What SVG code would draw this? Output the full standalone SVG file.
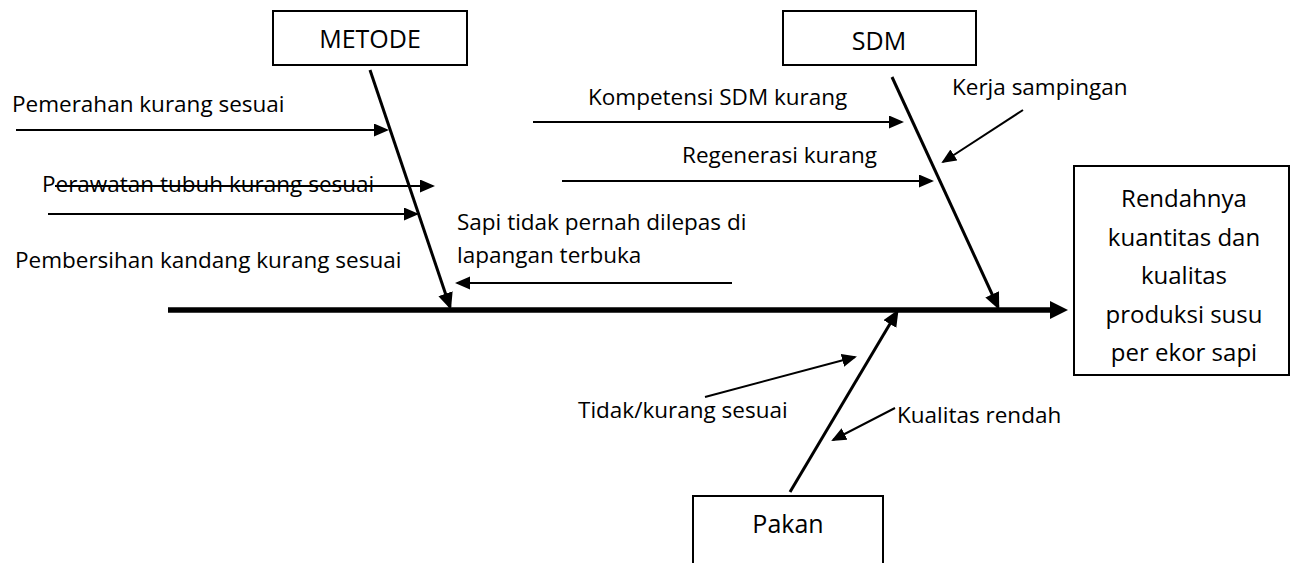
<svg xmlns="http://www.w3.org/2000/svg" width="1290" height="563" viewBox="0 0 1290 563">
<defs>
<style>
text{font-family:"Open Sans","Liberation Sans",sans-serif;font-size:22.5px;fill:#000}
.c{text-anchor:middle}
.t{font-size:25px}
.r{font-size:24px}
.box{fill:#fff;stroke:#000;stroke-width:2}
.thin{stroke:#000;stroke-width:2;fill:none}
.bone{stroke:#000;stroke-width:3;fill:none}
.spine{stroke:#000;stroke-width:5.5;fill:none}
</style>
<marker id="ah" markerUnits="userSpaceOnUse" markerWidth="16" markerHeight="14" refX="13" refY="6.5" orient="auto">
<path d="M0,0 L15,6.5 L0,13 z" fill="#000"/>
</marker>
<marker id="ahb" markerUnits="userSpaceOnUse" markerWidth="18" markerHeight="16" refX="14" refY="7.5" orient="auto">
<path d="M0,0 L17,7.5 L0,15 z" fill="#000"/>
</marker>
</defs>
<rect width="1290" height="563" fill="#fff"/>

<g id="connectors">
<line class="spine" x1="168" y1="310" x2="1052" y2="310"/>
<path d="M1050,301 L1068,310 L1050,319 z" fill="#000"/>
<line class="bone" x1="370" y1="70" x2="450" y2="307" marker-end="url(#ahb)"/>
<line class="bone" x1="892" y1="77" x2="998" y2="307" marker-end="url(#ahb)"/>
<line class="bone" x1="790" y1="492" x2="897" y2="312" marker-end="url(#ahb)"/>
<line class="thin" x1="16" y1="130" x2="387" y2="130" marker-end="url(#ah)"/>
<line class="thin" x1="55" y1="186" x2="433" y2="186" marker-end="url(#ah)"/>
<line class="thin" x1="48" y1="214" x2="417" y2="214" marker-end="url(#ah)"/>
<line class="thin" x1="732" y1="283" x2="457" y2="283" marker-end="url(#ah)"/>
<line class="thin" x1="533" y1="122" x2="902" y2="122" marker-end="url(#ah)"/>
<line class="thin" x1="562" y1="181" x2="932" y2="181" marker-end="url(#ah)"/>
<line class="thin" x1="1023" y1="110" x2="943" y2="162" marker-end="url(#ah)"/>
<line class="thin" x1="705" y1="397" x2="855" y2="357" marker-end="url(#ah)"/>
<line class="thin" x1="895" y1="408" x2="833" y2="440" marker-end="url(#ah)"/>
</g>

<g id="node-metode">
<rect class="box" x="273" y="11" width="194" height="54"/>
<text class="c t" x="370" y="48">METODE</text>
</g>
<g id="node-sdm">
<rect class="box" x="783" y="11" width="193" height="54"/>
<text class="c t" x="879" y="50">SDM</text>
</g>
<g id="node-pakan">
<rect class="box" x="693" y="496" width="190" height="80"/>
<text class="c t" x="788" y="533">Pakan</text>
</g>
<g id="node-result">
<rect class="box" x="1074" y="166" width="215" height="209"/>
<text class="c r" x="1184" y="207">Rendahnya</text>
<text class="c r" x="1184" y="246">kuantitas dan</text>
<text class="c r" x="1184" y="284">kualitas</text>
<text class="c r" x="1184" y="323">produksi susu</text>
<text class="c r" x="1184" y="361">per ekor sapi</text>
</g>

<g id="labels">
<text x="12" y="112">Pemerahan kurang sesuai</text>
<text x="42" y="192">Perawatan tubuh kurang sesuai</text>
<text x="15" y="268">Pembersihan kandang kurang sesuai</text>
<text x="457" y="230">Sapi tidak pernah dilepas di</text>
<text x="457" y="263">lapangan terbuka</text>
<text x="588" y="105">Kompetensi SDM kurang</text>
<text x="682" y="163">Regenerasi kurang</text>
<text x="952" y="95">Kerja sampingan</text>
<text x="578" y="418">Tidak/kurang sesuai</text>
<text x="897" y="423">Kualitas rendah</text>
</g>
</svg>
